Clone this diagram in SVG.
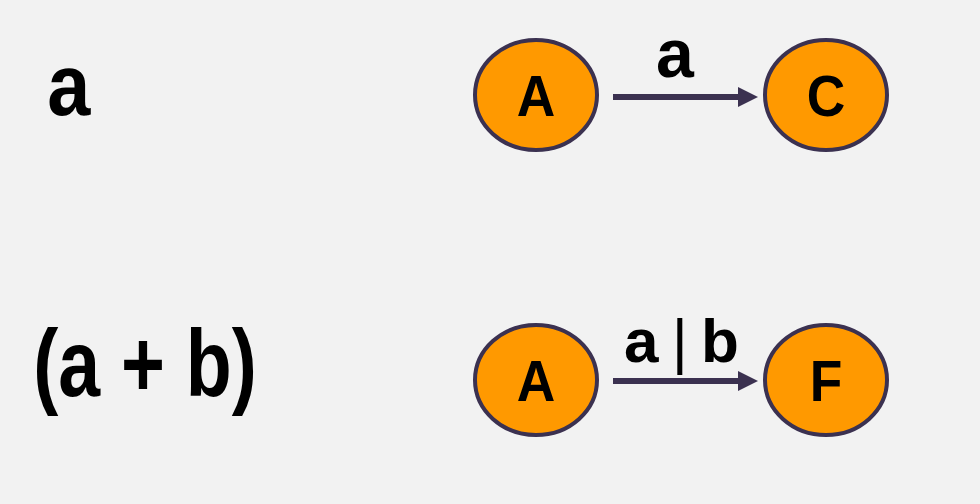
<svg xmlns="http://www.w3.org/2000/svg" width="980" height="504" viewBox="0 0 980 504">
<defs>
<style>
.node ellipse{fill:#FF9900;stroke:#3B3150;stroke-width:4}
.node text{font-family:"Liberation Sans",Arial,sans-serif;font-weight:bold;font-size:58px;fill:#000;text-anchor:middle}
.lbl{font-family:"Liberation Sans",Arial,sans-serif;font-weight:bold;fill:#000}
.edge{stroke:#3B3150;stroke-width:6;fill:none}
</style>
<marker id="arr" markerUnits="userSpaceOnUse" markerWidth="20" markerHeight="20" refX="7" refY="10" orient="auto">
<path d="M0,0 L20,10 L0,20 Z" fill="#3B3150"/>
</marker>
</defs>
<rect width="980" height="504" fill="#F2F2F2"/>
<text class="lbl" transform="translate(50,0) scale(0.88,1)" x="-3" y="115" font-size="88">a</text>
<text class="lbl" transform="translate(38,0) scale(0.8,1)" x="-6" y="396" font-size="94">(a + b)</text>
<g id="edges">
<line class="edge" x1="613" y1="97" x2="745" y2="97" marker-end="url(#arr)"/>
<line class="edge" x1="613" y1="381" x2="745" y2="381" marker-end="url(#arr)"/>
<text class="lbl" x="675" y="77" font-size="68" text-anchor="middle">a</text>
<text class="lbl" x="624" y="362" font-size="62" word-spacing="-4">a <tspan font-weight="normal">|</tspan> b</text>
</g>
<g id="A1" class="node"><ellipse cx="536" cy="95" rx="61" ry="55"/><text transform="translate(536,0) scale(0.92,1)" x="0" y="116">A</text></g>
<g id="C" class="node"><ellipse cx="826" cy="95" rx="61" ry="55"/><text transform="translate(826,0) scale(0.92,1)" x="0" y="116">C</text></g>
<g id="A2" class="node"><ellipse cx="536" cy="380" rx="61" ry="55"/><text transform="translate(536,0) scale(0.92,1)" x="0" y="401">A</text></g>
<g id="F" class="node"><ellipse cx="826" cy="380" rx="61" ry="55"/><text transform="translate(826,0) scale(0.92,1)" x="0" y="401">F</text></g>
</svg>
